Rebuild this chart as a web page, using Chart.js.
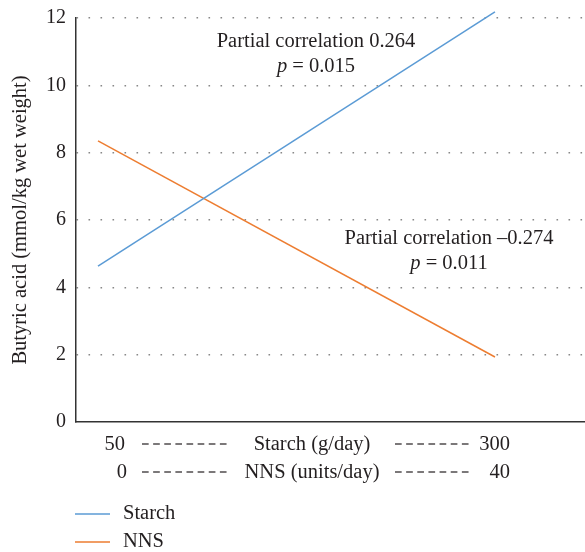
<!DOCTYPE html>
<html>
<head>
<meta charset="utf-8">
<script src="https://cdn.jsdelivr.net/npm/chart.js@4/dist/chart.umd.min.js"></script>
<style>
  html, body { margin: 0; padding: 0; background: #fff; }
  #wrap { position: relative; width: 585px; height: 552px; }
</style>
</head>
<body>
<div id="wrap"><canvas id="c" width="585" height="552"></canvas></div>
<script>
// ---- data ----
const seriesNames = ['Starch', 'NNS'];
const starchX = [50, 300];          // g/day
const starchY = [4.63, 12.18];      // mmol/kg wet weight
const nnsX = [0, 40];               // units/day
const nnsY = [8.35, 1.93];
const yTicks = [0, 2, 4, 6, 8, 10, 12];
const yTitle = 'Butyric acid (mmol/kg wet weight)';
const starchAxisLabel = 'Starch (g/day)';
const nnsAxisLabel = 'NNS (units/day)';
const annot1 = ['Partial correlation 0.264', '0.015'];
const annot2 = ['Partial correlation \u20130.274', '0.011'];

const colors = ['#5B9BD5', '#ED7D31'];
const FONT = '"Liberation Serif", "DejaVu Serif", serif';
const FS = 20.5;

const textPlugin = {
  id: 'texts',
  afterDraw(chart) {
    const ctx = chart.ctx;
    ctx.save();
    ctx.fillStyle = '#231f20';
    const F = FS + 'px ' + FONT;
    const FI = 'italic ' + FS + 'px ' + FONT;
    ctx.font = F;
    ctx.textBaseline = 'alphabetic';

    function pLine(txt, cx, y) {
      const a = 'p';
      const b = ' = ' + txt;
      ctx.font = FI;
      const wa = ctx.measureText(a).width;
      ctx.font = F;
      const wb = ctx.measureText(b).width;
      let x = cx - (wa + wb) / 2;
      ctx.textAlign = 'left';
      ctx.font = FI;
      ctx.fillText(a, x, y);
      ctx.font = F;
      ctx.fillText(b, x + wa, y);
    }
    ctx.textAlign = 'center';
    ctx.fillText(annot1[0], 316, 47);
    pLine(annot1[1], 316, 72);
    ctx.textAlign = 'center';
    ctx.fillText(annot2[0], 449, 244);
    pLine(annot2[1], 449, 269);

    // x axis text rows
    ctx.textAlign = 'right';
    ctx.fillText(String(starchX[0]), 125, 450);
    ctx.fillText(String(starchX[1]), 510, 450);
    ctx.fillText(String(nnsX[0]), 127, 478);
    ctx.fillText(String(nnsX[1]), 510, 478);
    function dashes(x0, x1, n, y) {
      ctx.strokeStyle = '#231f20';
      ctx.lineWidth = 1.2;
      const step = (x1 - x0) / n;
      for (let i = 0; i < n; i++) {
        const a = x0 + i * step;
        ctx.beginPath();
        ctx.moveTo(a, y);
        ctx.lineTo(a + step * 0.6, y);
        ctx.stroke();
      }
    }
    dashes(142, 231, 8, 444);
    dashes(395, 473, 7, 444);
    dashes(142, 231, 8, 472);
    dashes(395, 473, 7, 472);
    ctx.textAlign = 'center';
    ctx.fillText(starchAxisLabel, 312, 450);
    ctx.fillText(nnsAxisLabel, 312, 478);

    // legend
    const ly = [514, 542];
    seriesNames.forEach((n, i) => {
      ctx.strokeStyle = colors[i];
      ctx.lineWidth = 1.5;
      ctx.beginPath();
      ctx.moveTo(75, ly[i]);
      ctx.lineTo(110, ly[i]);
      ctx.stroke();
      ctx.textAlign = 'left';
      ctx.textBaseline = 'middle';
      ctx.fillText(n, 123, ly[i]);
    });
    ctx.restore();
  }
};

new Chart(document.getElementById('c'), {
  type: 'line',
  data: {
    datasets: [
      { label: seriesNames[0], data: starchX.map((x, i) => ({x, y: starchY[i]})),
        xAxisID: 'xs', borderColor: colors[0], borderWidth: 1.5, pointRadius: 0, fill: false, clip: false },
      { label: seriesNames[1], data: nnsX.map((x, i) => ({x, y: nnsY[i]})),
        xAxisID: 'xn', borderColor: colors[1], borderWidth: 1.5, pointRadius: 0, fill: false, clip: false }
    ]
  },
  options: {
    responsive: false,
    animation: false,
    events: [],
    layout: { padding: { top: 18, right: 0, bottom: 130, left: 0 } },
    plugins: { legend: { display: false }, tooltip: { enabled: false } },
    scales: {
      xs: {
        type: 'linear', position: 'bottom', min: 36.15, max: 356.7,
        ticks: { display: false },
        grid: { display: false, drawTicks: false },
        border: { display: true, color: '#333', width: 1.5 },
        afterFit(s) { s.height = 0; }
      },
      xn: {
        type: 'linear', position: 'bottom', min: -2.217, max: 49.07, display: false
      },
      y: {
        min: 0, max: 12,
        afterBuildTicks(s) { s.ticks = yTicks.map(v => ({ value: v })); },
        ticks: { font: { family: FONT, size: 20, lineHeight: 0.8 }, color: '#231f20', padding: 10 },
        grid: {
          drawTicks: false,
          color: (c) => c.tick && c.tick.value === 0 ? 'rgba(0,0,0,0)' : '#888',
          lineWidth: 1.6,
        },
        border: { display: true, color: '#333', width: 1.5, dash: [1.6, 10.4] },
        title: { display: true, text: yTitle, font: { family: FONT, size: FS }, color: '#231f20', padding: { top: 8, bottom: 0 } },
        afterFit(s) { s.width = 76; }
      }
    }
  },
  plugins: [textPlugin]
});
</script>
</body>
</html>
